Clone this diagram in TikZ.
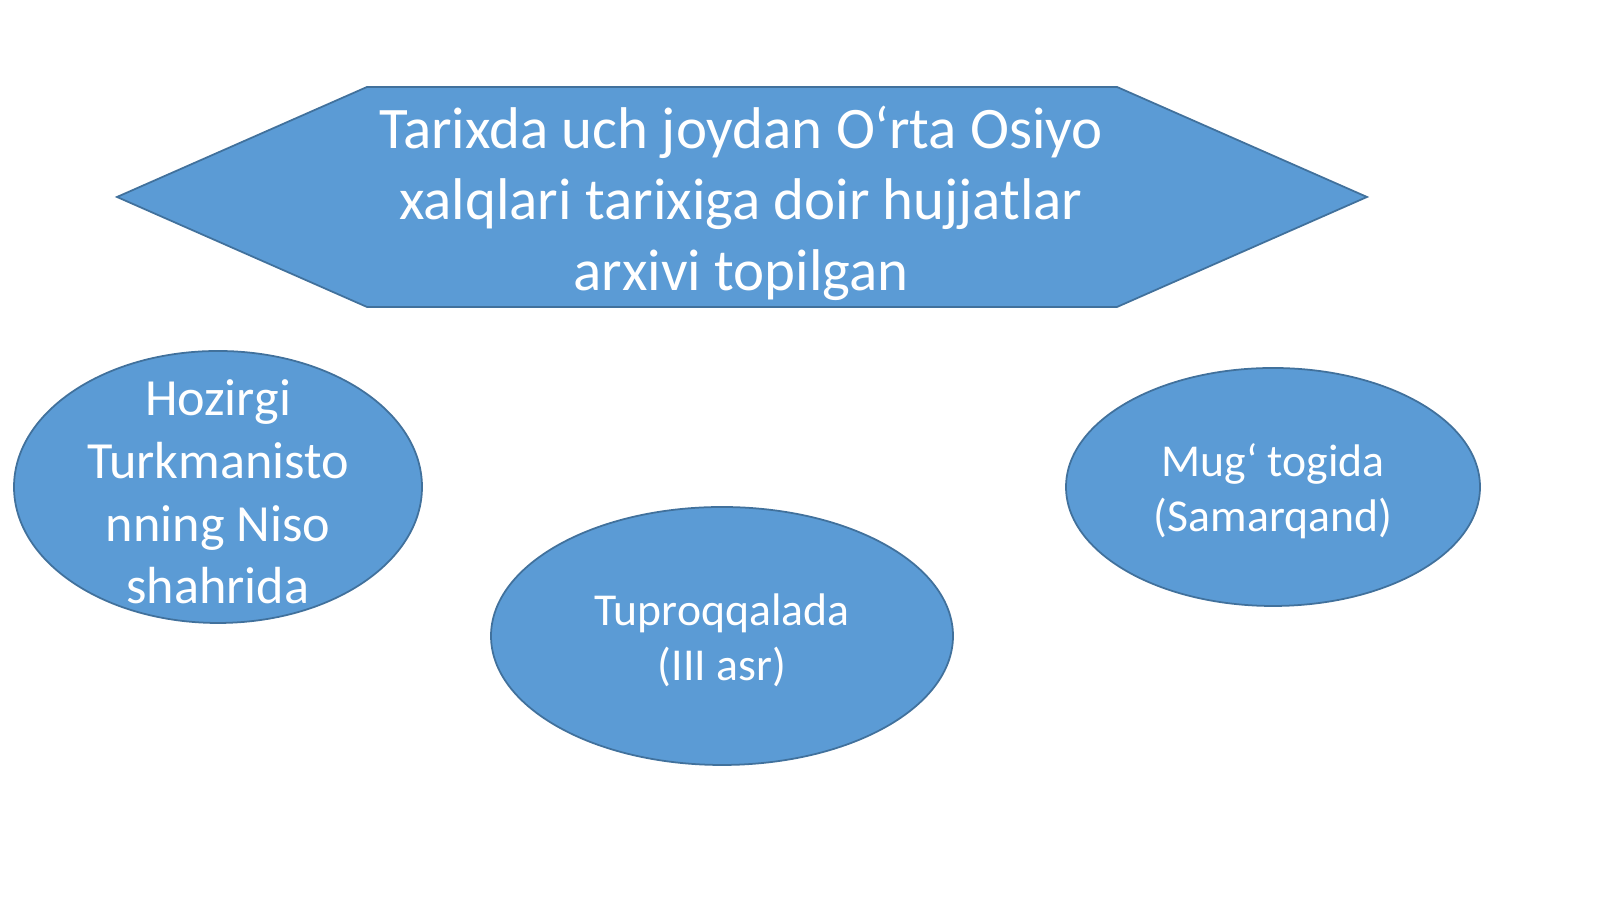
\documentclass[tikz,border=0pt]{standalone}
\usepackage{fontspec}
\setmainfont{Carlito}
\usetikzlibrary{shapes.geometric}

\definecolor{slideblue}{HTML}{5B9BD5}
\definecolor{slideedge}{HTML}{41719C}

\tikzset{
  blueshape/.style={fill=slideblue, draw=slideedge, line width=0.5pt},
  ovalbox/.style={blueshape, ellipse, inner sep=0pt},
  whitetext/.style={text=white, align=center, inner sep=0pt}
}

\begin{document}
\begin{tikzpicture}

\useasboundingbox[fill=white] (0,0) rectangle (16,8.99);

% title hexagon
\draw[blueshape] (1.17,7.02) -- (3.67,8.12) -- (11.17,8.12) -- (13.67,7.02) -- (11.17,5.92) -- (3.67,5.92) -- cycle;
\node[whitetext, font=\fontsize{16.75}{20.2}\selectfont] (title) at (7.41,6.96)
  {Tarixda uch joydan O‘rta Osiyo\\xalqlari tarixiga doir hujjatlar\\arxivi topilgan};

% three places
\node[ovalbox, minimum width=4.08cm, minimum height=2.72cm] (niso) at (2.18,4.12) {};
\node[whitetext, font=\fontsize{14.85}{17.8}\selectfont] (nisotext) at (2.18,4.07)
  {Hozirgi\\Turkmanisto\\nning Niso\\shahrida};

\node[ovalbox, minimum width=4.62cm, minimum height=2.58cm] (tuproq) at (7.22,2.63) {};
\node[whitetext, font=\fontsize{13}{15.7}\selectfont] (tuproqtext) at (7.22,2.59)
  {Tuproqqalada\\(III asr)};

\node[ovalbox, minimum width=4.14cm, minimum height=2.38cm] (mug) at (12.73,4.12) {};
\node[whitetext, font=\fontsize{13}{15.7}\selectfont] (mugtext) at (12.73,4.08)
  {Mug‘ togida\\(Samarqand)};

\end{tikzpicture}
\end{document}
